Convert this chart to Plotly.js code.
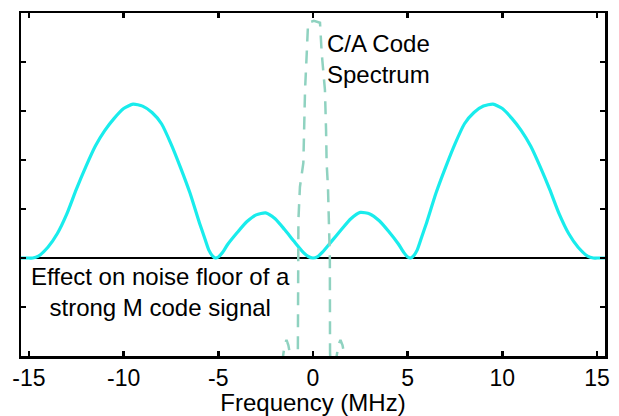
<!DOCTYPE html>
<html>
<head>
<meta charset="utf-8">
<script src="https://cdn.plot.ly/plotly-3.0.1.min.js"></script>
<style>
html,body{margin:0;padding:0;background:#fff;}
#chart{width:619px;height:416px;}
</style>
</head>
<body>
<div id="chart"></div>
<script>
// M code spectrum, baseline = 0
var mFreq = [-15.6, -15.0, -14.8, -14.5, -14.0, -13.5, -13.0, -12.5, -12.0, -11.5, -11.0, -10.5, -10.0, -9.5, -9.0, -8.5, -8.0, -7.5, -7.0, -6.5, -6.0, -5.75, -5.5, -5.3, -5.15, -5.0, -4.8, -4.5, -4.0, -3.5, -3.0, -2.5, -2.0, -1.5, -1.0, -0.5, -0.25, 0.0,
             0.25, 0.5, 1.0, 1.5, 2.0, 2.5, 3.0, 3.5, 4.0, 4.5, 4.8, 5.0, 5.15, 5.3, 5.5, 5.75, 6.0, 6.5, 7.0, 7.5, 8.0, 8.5, 9.0, 9.5, 10.0, 10.5, 11.0, 11.5, 12.0, 12.5, 13.0, 13.5, 14.0, 14.5, 14.8, 15.0, 15.6];
var mLevel = [0.0, 0.0, 0.0, 0.04, 0.22, 0.50, 0.90, 1.40, 1.86, 2.28, 2.60, 2.85, 3.05, 3.14, 3.10, 2.97, 2.74, 2.33, 1.85, 1.33, 0.72, 0.44, 0.16, 0.04, 0.0, 0.02, 0.10, 0.28, 0.52, 0.74, 0.88, 0.92, 0.80, 0.58, 0.34, 0.11, 0.03, 0.0,
              0.03, 0.12, 0.35, 0.58, 0.80, 0.93, 0.90, 0.76, 0.54, 0.29, 0.11, 0.02, 0.0, 0.04, 0.16, 0.44, 0.72, 1.33, 1.85, 2.33, 2.74, 2.97, 3.10, 3.14, 3.05, 2.85, 2.60, 2.28, 1.86, 1.40, 0.90, 0.50, 0.22, 0.04, 0.0, 0.0, 0.0];

// C/A code spectrum
var caFreq = [-1.8, -1.6, -1.5, -1.4, -1.3, -1.2, -1.05, -0.88, -0.82, -0.80, -0.79, -0.77, -0.69, -0.51, -0.47, -0.42, -0.33, -0.26, 0.05, 0.37, 0.46, 0.63, 0.69, 0.72, 0.79, 0.84, 0.89, 0.90, 0.93, 0.98, 1.15, 1.25, 1.34, 1.45, 1.56, 1.66, 1.8];
var caLevel = [-2.6, -2.0, -1.78, -1.67, -1.78, -2.0, -2.6, -2.6, -2.3, -1.94, 0.0, 0.78, 1.45, 1.94, 2.6, 3.43, 4.18, 4.8, 4.84, 4.8, 4.18, 3.43, 2.6, 1.94, 1.45, 0.78, 0.0, -1.94, -2.3, -2.6, -2.6, -2.0, -1.78, -1.67, -1.78, -2.0, -2.6];

var xTickVals = [-15, -10, -5, 0, 5, 10, 15];
var xTickText = ['-15', '-10', '-5', '0', '5', '10', '15'];
var yTickVals = [-2, -1, 0, 1, 2, 3, 4, 5];

var FONT = 'Liberation Sans, Arial, sans-serif';

var traces = [
  {x: mFreq, y: mLevel, type: 'scatter', mode: 'lines',
   line: {color: '#19ecec', width: 3.2, shape: 'spline', smoothing: 0.6}, hoverinfo: 'skip'},
  {x: caFreq, y: caLevel, type: 'scatter', mode: 'lines',
   line: {color: '#8fd2c0', width: 2.5, dash: '13px,9px'}, hoverinfo: 'skip'}
];

var layout = {
  width: 619, height: 416,
  margin: {l: 21, r: 14, t: 13, b: 60},
  paper_bgcolor: '#ffffff', plot_bgcolor: '#ffffff',
  showlegend: false,
  font: {family: FONT, color: '#000', size: 23},
  xaxis: {
    range: [-15.42, 15.42], tickvals: xTickVals, ticktext: xTickText,
    ticks: 'inside', ticklen: 5, tickwidth: 2.5, tickcolor: '#000',
    showline: true, linecolor: '#000', linewidth: 2.5, mirror: 'ticks',
    showgrid: false, zeroline: false,
    tickfont: {family: FONT, size: 23, color: '#000'},
    title: {text: 'Frequency (MHz)', font: {family: FONT, size: 24, color: '#000'}, standoff: 0}
  },
  yaxis: {
    range: [-2, 5], tickvals: yTickVals, showticklabels: false,
    ticks: 'inside', ticklen: 5, tickwidth: 2.5, tickcolor: '#000',
    showline: true, linecolor: '#000', linewidth: 2.5, mirror: 'ticks',
    showgrid: false, zeroline: true, zerolinecolor: '#000', zerolinewidth: 2
  },
  annotations: [
    {x: 0.62, y: 4.07, xref: 'x', yref: 'y', xanchor: 'left', yanchor: 'middle', align: 'left',
     text: 'C/A Code<br>Spectrum', showarrow: false, font: {family: FONT, size: 24, color: '#000'}},
    {x: -8.07, y: -0.7, xref: 'x', yref: 'y', xanchor: 'center', yanchor: 'middle', align: 'center',
     text: 'Effect on noise floor of a<br>strong M code signal', showarrow: false, font: {family: FONT, size: 24, color: '#000'}}
  ]
};

Plotly.newPlot('chart', traces, layout, {staticPlot: true, displayModeBar: false});
</script>
</body>
</html>
